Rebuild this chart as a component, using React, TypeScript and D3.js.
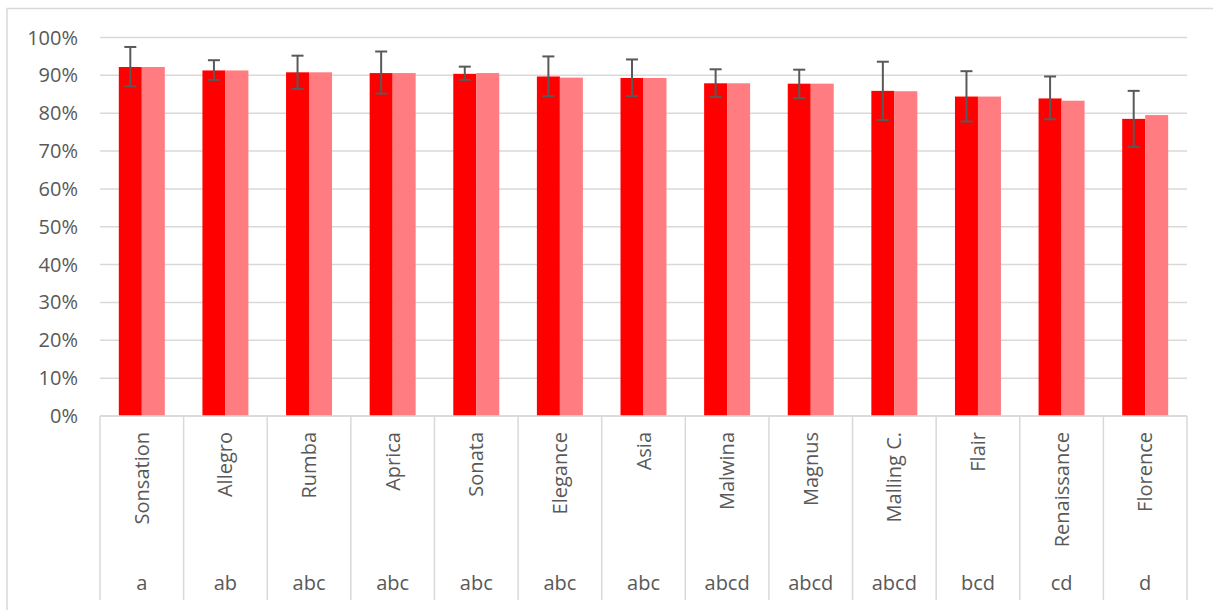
import React from "react";
import * as d3 from "d3";

const categories = ["Sonsation", "Allegro", "Rumba", "Aprica", "Sonata", "Elegance", "Asia", "Malwina", "Magnus", "Malling C.", "Flair", "Renaissance", "Florence"];
const groupLetters = ["a", "ab", "abc", "abc", "abc", "abc", "abc", "abcd", "abcd", "abcd", "bcd", "cd", "d"];
const series1 = [92.2, 91.3, 90.8, 90.6, 90.4, 89.7, 89.3, 87.9, 87.8, 85.9, 84.4, 83.9, 78.5];
const series2 = [92.2, 91.3, 90.8, 90.6, 90.6, 89.4, 89.3, 87.9, 87.8, 85.8, 84.4, 83.3, 79.5];
const errUpper = [97.5, 94.0, 95.2, 96.3, 92.3, 95.0, 94.2, 91.6, 91.5, 93.6, 91.1, 89.7, 85.9];
const errLower = [87.1, 88.8, 86.4, 85.2, 88.8, 84.5, 84.5, 84.3, 84.0, 78.2, 77.8, 78.4, 71.1];
const yTicks = [0, 10, 20, 30, 40, 50, 60, 70, 80, 90, 100];

const W = 1213;
const H = 610;
const left = 100;
const right = 1187;
const top = 37.5;
const bottom = 416;
const font = "'Open Sans', sans-serif";
const gray = "#595959";

export default function App() {
  const x = d3.scaleBand<string>().domain(categories).range([left, right]).paddingInner(0).paddingOuter(0);
  const y = d3.scaleLinear().domain([0, 100]).range([bottom, top]);
  const bw = x.bandwidth();
  const barW = bw * 0.275;

  return (
    <svg width={W} height={H} style={{ position: "absolute", left: 0, top: 0, display: "block" }}>
      <rect x={0} y={0} width={W} height={H} fill="#fff" />
      <rect x={7} y={8.5} width={W + 20} height={H + 20} fill="none" stroke="#d9d9d9" strokeWidth={1.5} />
      {yTicks.map((t) => (
        <g key={t}>
          <line x1={left} x2={right} y1={y(t)} y2={y(t)} stroke="#d9d9d9" strokeWidth={1.5} />
          <text x={78} y={y(t)} dy="0.35em" textAnchor="end" fontFamily={font} fontSize={20} fill={gray}>
            {t}%
          </text>
        </g>
      ))}
      {categories.map((c, i) => {
        const cx = (x(c) as number) + bw / 2;
        return (
          <g key={c}>
            <rect x={cx - barW} y={y(series1[i])} width={barW} height={bottom - y(series1[i])} fill="#ff0000" />
            <rect x={cx} y={y(series2[i])} width={barW} height={bottom - y(series2[i])} fill="#ff7c80" />
          </g>
        );
      })}
      {categories.map((c, i) => {
        const ex = (x(c) as number) + bw / 2 - barW / 2;
        return (
          <g key={c + "e"} stroke={gray} strokeWidth={2}>
            <line x1={ex} x2={ex} y1={y(errUpper[i])} y2={y(errLower[i])} />
            <line x1={ex - 6} x2={ex + 6} y1={y(errUpper[i])} y2={y(errUpper[i])} />
            <line x1={ex - 6} x2={ex + 6} y1={y(errLower[i])} y2={y(errLower[i])} />
          </g>
        );
      })}
      <line x1={left} x2={right} y1={bottom} y2={bottom} stroke="#d9d9d9" strokeWidth={1.5} />
      {categories.concat(["__end"]).map((c, i) => {
        const lx = i < categories.length ? (x(c) as number) : right;
        return <line key={"s" + i} x1={lx} x2={lx} y1={bottom} y2={600} stroke="#d9d9d9" strokeWidth={1.5} />;
      })}
      {categories.map((c, i) => {
        const cx = (x(c) as number) + bw / 2;
        return (
          <g key={c + "l"}>
            <text
              transform={`translate(${cx},432) rotate(-90)`}
              dy="0.35em"
              textAnchor="end"
              fontFamily={font}
              fontSize={20}
              fill={gray}
            >
              {c}
            </text>
            <text x={cx} y={590} textAnchor="middle" fontFamily={font} fontSize={20} fill={gray}>
              {groupLetters[i]}
            </text>
          </g>
        );
      })}
    </svg>
  );
}
